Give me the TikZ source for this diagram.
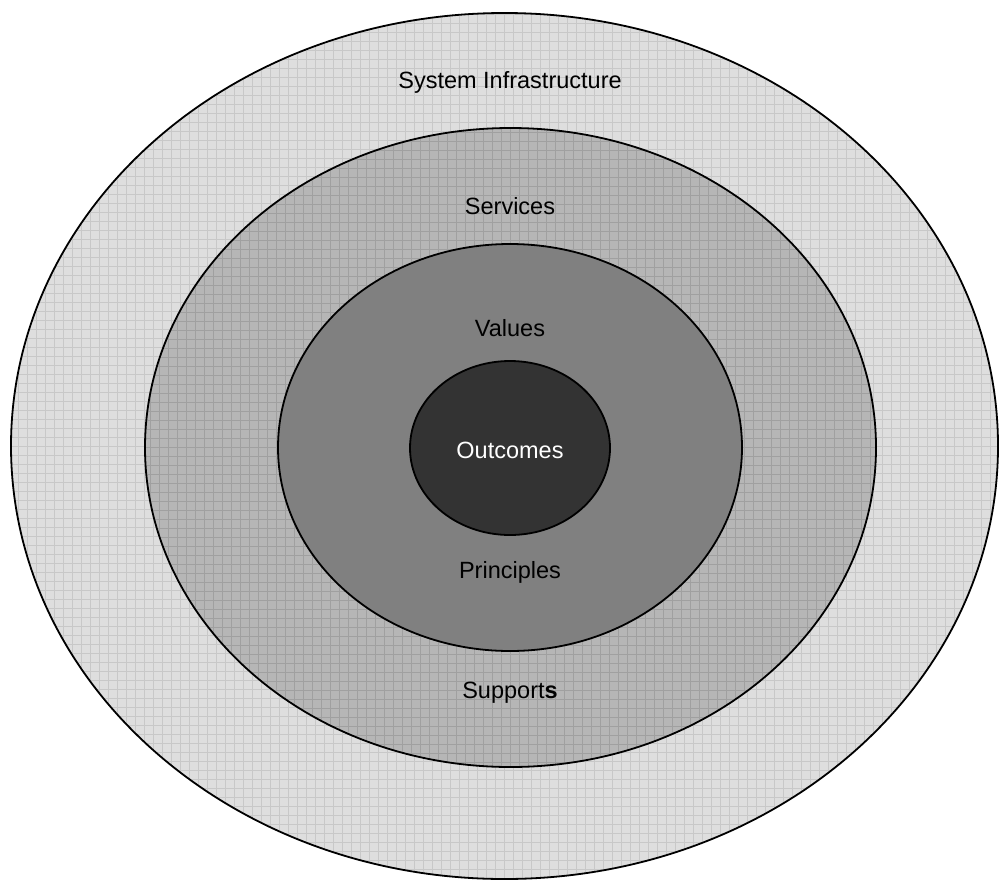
\documentclass[tikz,border=0pt]{standalone}
\usepackage{fontspec}
\setmainfont{Liberation Sans}
\usetikzlibrary{shapes.geometric}
\definecolor{ringA}{HTML}{DEDEDE}
\definecolor{gridA}{HTML}{C8C8C8}
\definecolor{ringB}{HTML}{B6B6B6}
\definecolor{gridB}{HTML}{A0A0A0}
\definecolor{ringC}{HTML}{808080}
\definecolor{ringD}{HTML}{333333}
\tikzset{
  ring/.style={ellipse, draw=black, line width=1.8pt, inner sep=0pt, outer sep=0pt},
  gridfill/.style={path picture={\draw[#1, line width=0.7pt] (path picture bounding box.south west) grid[step=9pt] (path picture bounding box.north east);}},
  lbl/.style={inner sep=0pt, font=\fontsize{23.5}{28}\selectfont, text=black},
}
\begin{document}
\begin{tikzpicture}[x=1pt, y=-1pt]
\useasboundingbox (0,0) rectangle (1000,881);
\node[ring, fill=ringA, gridfill=gridA, minimum width=987pt, minimum height=866pt] (infra) at (504.5,446) {};
\node[ring, fill=ringB, gridfill=gridB, minimum width=731pt, minimum height=639pt] (serv) at (510.5,447.5) {};
\node[ring, fill=ringC, minimum width=464pt, minimum height=407pt] (vals) at (510,447.5) {};
\node[ring, fill=ringD, minimum width=200pt, minimum height=174pt] (outc) at (510,448) {};
\node[lbl] (tinfra) at (510,82) {System Infrastructure};
\node[lbl] (tserv) at (510,206) {Services};
\node[lbl] (tvals) at (510,328) {Values};
\node[lbl, text=white] (toutc) at (510,450) {Outcomes};
\node[lbl] (tprin) at (510,572) {Principles};
\node[lbl] (tsupp) at (510,693) {Support\textbf{s}};
\end{tikzpicture}
\end{document}
